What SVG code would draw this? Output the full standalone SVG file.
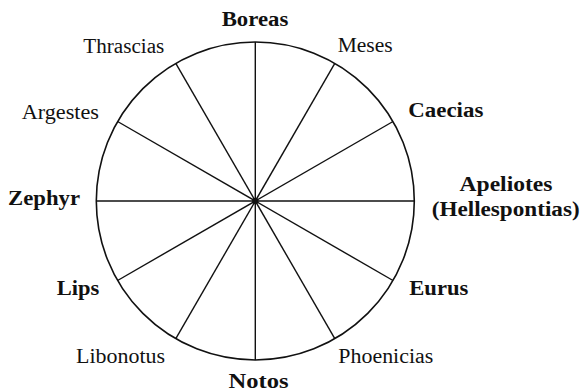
<svg xmlns="http://www.w3.org/2000/svg" width="582" height="392" viewBox="0 0 582 392">
  <style>
    text { font-family: 'Liberation Serif', 'DejaVu Serif', serif; font-size: 20.5px; fill: #111; }
    .b { font-weight: bold; }
    .spoke { stroke: #111; stroke-width: 1.4; fill: none; }
    .rim { stroke: #111; stroke-width: 1.6; fill: none; }
  </style>
  <rect width="582" height="392" fill="#fff"/>
  <g id="rose">
    <circle class="rim" cx="255.3" cy="201" r="159"/>
  </g>
  <g id="connectors">
    <line class="spoke" x1="96.3" y1="201" x2="414.3" y2="201"/>
    <line class="spoke" x1="255.3" y1="42" x2="255.3" y2="360"/>
    <line class="spoke" x1="117.6" y1="121.5" x2="393" y2="280.5"/>
    <line class="spoke" x1="117.6" y1="280.5" x2="393" y2="121.5"/>
    <line class="spoke" x1="175.8" y1="63.3" x2="334.8" y2="338.7"/>
    <line class="spoke" x1="175.8" y1="338.7" x2="334.8" y2="63.3"/>
    <circle cx="255.3" cy="201" r="3.2" fill="#111"/>
  </g>
  <g id="boreas"><text class="b" x="221.7" y="26" textLength="66.6" lengthAdjust="spacingAndGlyphs">Boreas</text></g>
  <g id="thrascias"><text x="83.3" y="53.3" textLength="81" lengthAdjust="spacingAndGlyphs">Thrascias</text></g>
  <g id="meses"><text x="337.7" y="52.3" textLength="55" lengthAdjust="spacingAndGlyphs">Meses</text></g>
  <g id="argestes"><text x="21.7" y="118.5" textLength="77.3" lengthAdjust="spacingAndGlyphs">Argestes</text></g>
  <g id="caecias"><text class="b" x="408.3" y="117" textLength="75" lengthAdjust="spacingAndGlyphs">Caecias</text></g>
  <g id="zephyr"><text class="b" x="8" y="205" textLength="72" lengthAdjust="spacingAndGlyphs">Zephyr</text></g>
  <g id="apeliotes">
    <text class="b" x="459.5" y="191" textLength="93" lengthAdjust="spacingAndGlyphs">Apeliotes</text>
    <text class="b" x="431.7" y="216" textLength="148" lengthAdjust="spacingAndGlyphs">(Hellespontias)</text>
  </g>
  <g id="lips"><text class="b" x="56.7" y="295" textLength="42.6" lengthAdjust="spacingAndGlyphs">Lips</text></g>
  <g id="eurus"><text class="b" x="409.3" y="295" textLength="59" lengthAdjust="spacingAndGlyphs">Eurus</text></g>
  <g id="libonotus"><text x="76" y="363.3" textLength="89" lengthAdjust="spacingAndGlyphs">Libonotus</text></g>
  <g id="phoenicias"><text x="338.3" y="363.3" textLength="95" lengthAdjust="spacingAndGlyphs">Phoenicias</text></g>
  <g id="notos"><text class="b" x="228.5" y="388" textLength="60" lengthAdjust="spacingAndGlyphs">Notos</text></g>
</svg>
